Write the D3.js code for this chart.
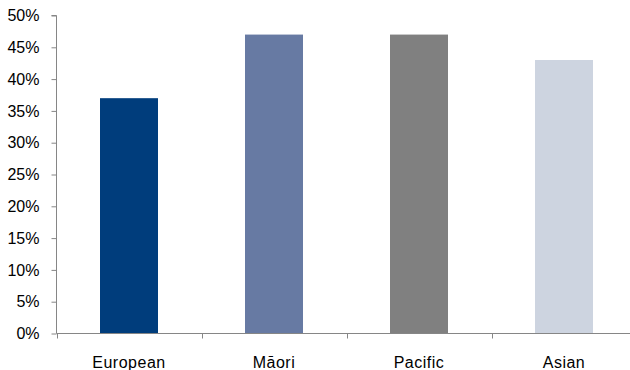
<!DOCTYPE html>
<html><head><meta charset="utf-8">
<script src="https://cdn.jsdelivr.net/npm/d3@7"></script>
<style>body{margin:0;background:#fff}svg{display:block}text{font-family:"Liberation Sans",Arial,sans-serif;fill:#000}</style>
</head><body>
<script>
const categories = ["European", "Māori", "Pacific", "Asian"];
const values = [0.37, 0.47, 0.47, 0.43];
const colors = ["#003d7c", "#677aa3", "#808080", "#cdd4e0"];
const yTicks = [0, 0.05, 0.10, 0.15, 0.20, 0.25, 0.30, 0.35, 0.40, 0.45, 0.50];

const W = 630, H = 370;
const svg = d3.select("body").append("svg").attr("width", W).attr("height", H);
const x0 = 56.5, yTop = 15.5, yBot = 333.5;
const x = d3.scaleBand().domain(categories).range([x0, x0 + 580]).paddingInner(0.6).paddingOuter(0.3);
const y = d3.scaleLinear().domain([0, 0.5]).range([yBot, yTop]);

svg.selectAll("rect.bar").data(categories).enter().append("rect")
  .attr("x", d => x(d)).attr("width", x.bandwidth())
  .attr("y", (d, i) => y(values[i])).attr("height", (d, i) => yBot - y(values[i]))
  .attr("fill", (d, i) => colors[i]);

const yAxis = svg.append("g").attr("transform", `translate(${x0},0)`)
  .call(d3.axisLeft(y).tickValues(yTicks).tickFormat(d3.format(".0%")).tickSize(5).tickPadding(12));
yAxis.selectAll("path,line").attr("stroke", "#868686");
yAxis.select("path").attr("d", `M-5,${yTop}H0V${yBot}`);
yAxis.selectAll("text").attr("font-size", 16).attr("font-family", "Liberation Sans, Arial, sans-serif").attr("fill", "#000");

const xAxis = svg.append("g").attr("transform", `translate(0,${yBot})`);
xAxis.append("line").attr("x1", x0).attr("x2", W).attr("y1", 0).attr("y2", 0).attr("stroke", "#868686");
const tickXs = d3.range(0, 5).map(i => x0 + i * x.step());
xAxis.selectAll("line.tk").data(tickXs).enter().append("line").attr("class", "tk")
  .attr("x1", d => Math.round(d) + 0.5).attr("x2", d => Math.round(d) + 0.5).attr("y1", 0).attr("y2", 5).attr("stroke", "#868686");
xAxis.selectAll("text").data(categories).enter().append("text")
  .attr("x", d => x(d) + x.bandwidth() / 2).attr("y", 34)
  .attr("text-anchor", "middle").attr("font-size", 16).attr("letter-spacing", "0.5px")
  .text(d => d);
</script>
</body></html>
